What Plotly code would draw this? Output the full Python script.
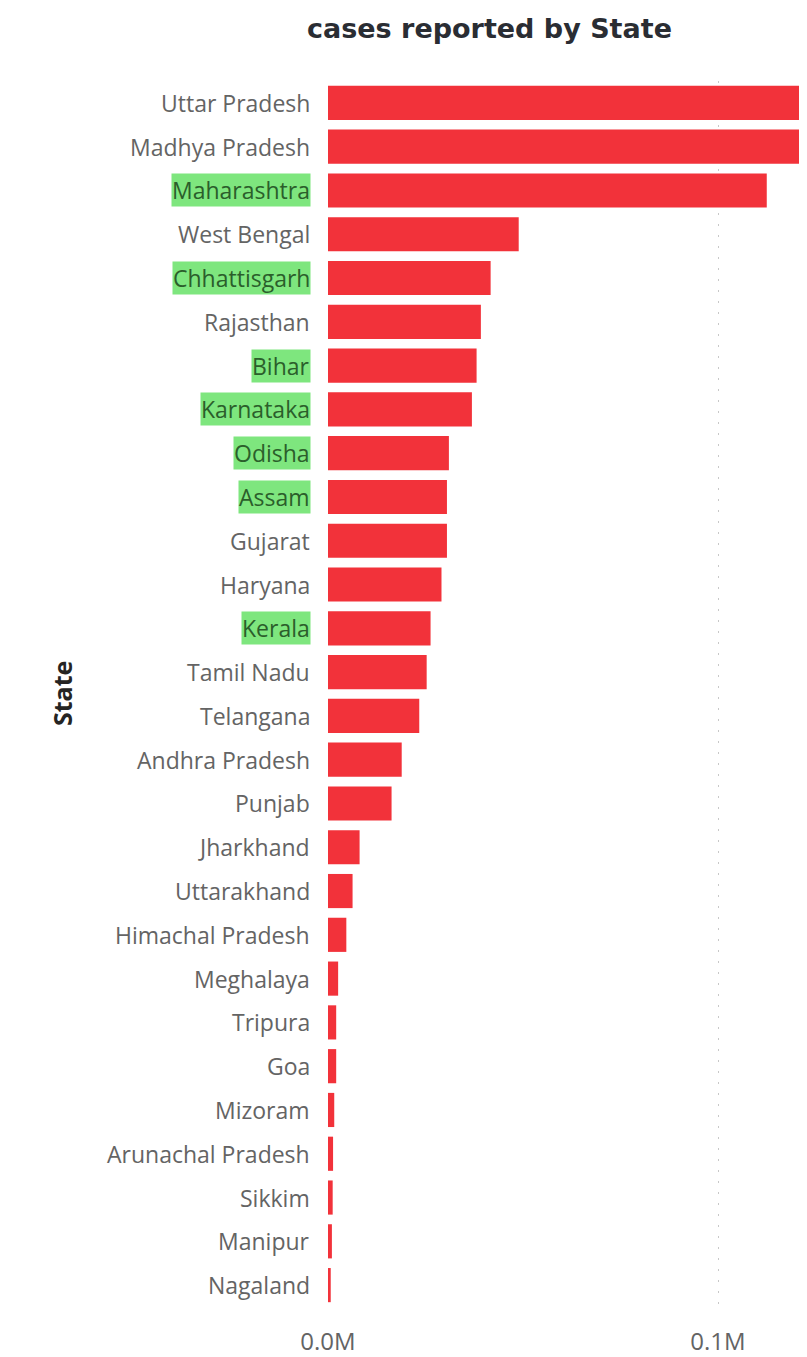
import plotly.graph_objects as go

states = ["Uttar Pradesh", "Madhya Pradesh", "Maharashtra", "West Bengal", "Chhattisgarh",
          "Rajasthan", "Bihar", "Karnataka", "Odisha", "Assam", "Gujarat", "Haryana",
          "Kerala", "Tamil Nadu", "Telangana", "Andhra Pradesh", "Punjab", "Jharkhand",
          "Uttarakhand", "Himachal Pradesh", "Meghalaya", "Tripura", "Goa", "Mizoram",
          "Arunachal Pradesh", "Sikkim", "Manipur", "Nagaland"]
cases = [150000, 132000, 112500, 48900, 41700, 39200, 38100, 36900, 31000, 30500, 30500,
         29100, 26300, 25300, 23400, 18900, 16300, 8100, 6300, 4700, 2600, 2100, 2100,
         1600, 1300, 1200, 1000, 700]
highlighted = ["Maharashtra", "Chhattisgarh", "Bihar", "Karnataka", "Odisha", "Assam", "Kerala"]
tick_vals = [0, 100000]
tick_text = ["0.0M", "0.1M"]
x_max = 124870

fig = go.Figure(go.Bar(
    x=cases, y=states, orientation="h",
    marker=dict(color="#F2323A", line=dict(width=0)),
    hoverinfo="skip",
))

annotations = []
for s in states:
    hl = s in highlighted
    annotations.append(dict(
        x=0, xref="paper", y=s, yref="y", xanchor="right", yanchor="middle",
        xshift=-17, text=s, showarrow=False,
        font=dict(family="Open Sans", size=23, color="#2B5E2B" if hl else "#646464"),
        bgcolor="#7EE67E" if hl else "rgba(0,0,0,0)", borderpad=0,
    ))
annotations.append(dict(
    x=0, xref="paper", y=0.5, yref="paper", xanchor="center", yanchor="middle",
    xshift=-266, text="<b>State</b>", textangle=-90, showarrow=False,
    font=dict(family="Open Sans", size=25, color="#252423"),
))
annotations.append(dict(
    x=0, xref="paper", y=1, yref="paper", xanchor="left", yanchor="middle",
    xshift=-23, yshift=53, text="<b>cases reported by State</b>", showarrow=False,
    font=dict(family="DejaVu Sans", size=27, color="#2A2D33"),
))

fig.update_layout(
    width=807, height=1349,
    margin=dict(l=320, r=0, t=73, b=50),
    paper_bgcolor="white", plot_bgcolor="white",
    bargap=0.22, showlegend=False,
    annotations=annotations,
)
fig.update_xaxes(
    range=[0, x_max], tickvals=tick_vals, ticktext=tick_text,
    showgrid=True, gridcolor="#C8C8C8", griddash="2px,9px", gridwidth=1,
    zeroline=False, showline=False,
    ticks="outside", ticklen=13, tickcolor="rgba(0,0,0,0)",
    tickfont=dict(family="Open Sans", size=24, color="#646464"),
)
fig.update_yaxes(
    autorange="reversed", showticklabels=False, showgrid=False,
    zeroline=False, showline=False, ticks="",
)

fig.write_html("out.html")
